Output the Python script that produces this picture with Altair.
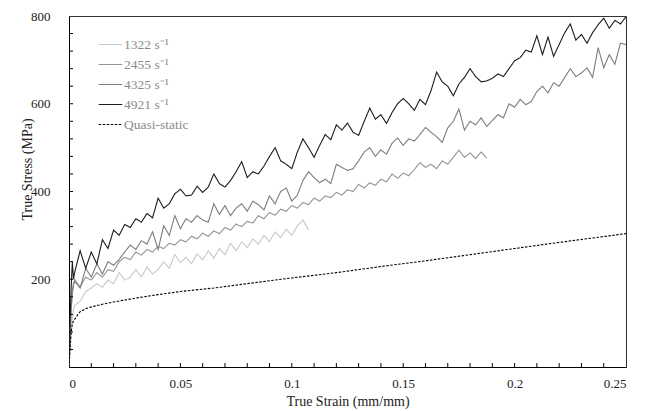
import altair as alt
import pandas as pd

# ---------------- data ----------------
STEP = 0.0025
init_strain = [0, 0.0005, 0.001, 0.0015, 0.002]

labels = ["1322 s⁻¹", "2455 s⁻¹", "4325 s⁻¹", "4921 s⁻¹", "Quasi-static"]

s1322_init = [0, 45, 85, 112, 130]
s1322_body = [140, 150, 172, 180, 190, 182, 198, 190, 215, 198,
              205, 222, 205, 228, 212, 222, 240, 225, 256, 238,
              250, 236, 258, 244, 265, 248, 270, 256, 282, 265,
              285, 272, 292, 280, 300, 286, 308, 295, 314, 300,
              322, 335, 312]

s2455_init = [0, 70, 130, 165, 185]
s2455_body = [200, 182, 205, 198, 215, 205, 222, 218, 240, 250,
              245, 262, 255, 268, 262, 275, 270, 282, 278, 290,
              285, 298, 292, 305, 298, 310, 304, 318, 312, 326,
              320, 332, 328, 345, 338, 352, 346, 360, 355, 368,
              362, 375, 370, 385, 378, 390, 386, 398, 392, 404,
              400, 416, 408, 420, 414, 428, 422, 440, 430, 442,
              436, 450, 466, 455, 462, 452, 470, 462, 478, 494,
              478, 488, 475, 490, 476]

s4325_init = [0, 75, 140, 175, 190]
s4325_body = [195, 180, 225, 205, 235, 212, 240, 232, 245, 262,
              278, 268, 288, 280, 308, 268, 322, 300, 345, 315,
              338, 330, 345, 335, 330, 372, 348, 368, 345, 362,
              372, 355, 378, 370, 358, 390, 372, 400, 408, 378,
              392, 425, 445, 432, 420, 428, 418, 462, 455, 448,
              452, 470, 490, 500, 480, 495, 485, 510, 522, 505,
              520, 515, 530, 546, 535, 525, 512, 545, 560, 588,
              540, 560, 552, 568, 548, 562, 575, 568, 600, 592,
              610, 598, 605, 628, 640, 625, 648, 640, 660, 680,
              662, 670, 682, 660, 728, 682, 712, 690, 738, 735]

s4921_init = [0, 110, 185, 240, 200]
s4921_body = [215, 265, 225, 262, 235, 290, 270, 312, 300, 325,
              318, 338, 330, 350, 340, 385, 362, 372, 395, 405,
              390, 392, 412, 398, 410, 440, 418, 410, 425, 445,
              468, 432, 445, 440, 458, 480, 500, 470, 462, 452,
              490, 520, 500, 478, 505, 530, 518, 552, 540, 556,
              535, 528, 560, 590, 565, 575, 555, 580, 600, 612,
              600, 585, 610, 598, 630, 672, 650, 640, 618, 645,
              660, 680, 662, 650, 652, 658, 668, 662, 680, 698,
              705, 722, 718, 755, 712, 752, 708, 735, 762, 782,
              745, 758, 738, 762, 780, 795, 772, 790, 782, 798]

qs_strain = [0, 0.0005, 0.001, 0.0015, 0.002, 0.003, 0.004, 0.005, 0.0075,
             0.01, 0.015, 0.02, 0.03, 0.04, 0.05, 0.065, 0.08, 0.1, 0.12,
             0.14, 0.16, 0.18, 0.2, 0.22, 0.25]
qs_stress = [0, 45, 80, 98, 105, 112, 120, 126, 133, 137, 143, 148, 157,
             165, 172, 180, 190, 203, 215, 229, 242, 256, 270, 284, 304]

x_label_values = [0, 0.05, 0.1, 0.15, 0.2, 0.25]
x_tick_values = [i / 100 for i in range(1, 25)]
y_label_values = [200, 400, 600, 800]
y_tick_values = [i * 40 for i in range(1, 20)]

colors = ["#c8c8c8", "#949494", "#7c7c7c", "#1c1c1c", "#000000"]
widths = [1.1, 1.1, 1.2, 1.1, 1.0]
dashes = [[1, 0], [1, 0], [1, 0], [1, 0], [2.5, 1.5]]

X_TITLE = "True Strain (mm/mm)"
Y_TITLE = "True Stress (MPa)"

# ---------------- table ----------------
rows = []
def add(name, init, body):
    for s, v in zip(init_strain, init):
        rows.append({"series": name, "strain": s, "stress": v})
    for i, v in enumerate(body):
        rows.append({"series": name, "strain": round(STEP * (i + 1), 5), "stress": v})

add(labels[0], s1322_init, s1322_body)
add(labels[1], s2455_init, s2455_body)
add(labels[2], s4325_init, s4325_body)
add(labels[3], s4921_init, s4921_body)
for s, v in zip(qs_strain, qs_stress):
    rows.append({"series": labels[4], "strain": s, "stress": v})
df = pd.DataFrame(rows)

xt = pd.DataFrame({"v": x_tick_values, "lo": 0.0, "hi": 9.0})
yt = pd.DataFrame({"v": y_tick_values, "lo": 0.0, "hi": 0.0018})

W, H = 557, 351
FONT = "Liberation Serif"

xs = alt.Scale(domain=[0, 0.25], nice=False, zero=False)
ys = alt.Scale(domain=[0, 800], nice=False, zero=False)

x_axis = alt.Axis(values=x_label_values, format="~g", ticks=False,
                  grid=False, labelPadding=10, titlePadding=4)
y_axis = alt.Axis(values=y_label_values, ticks=False, grid=False,
                  labelPadding=19, titleX=-42, titleY=153, titleAngle=270,
                  titleAlign="center", titleBaseline="middle")

main = alt.Chart(df).mark_line(clip=True).encode(
    x=alt.X("strain:Q", scale=xs, axis=x_axis, title=X_TITLE),
    y=alt.Y("stress:Q", scale=ys, axis=y_axis, title=Y_TITLE),
    color=alt.Color("series:N", title=None,
                    scale=alt.Scale(domain=labels, range=colors)),
    strokeWidth=alt.StrokeWidth("series:N", title=None,
                                scale=alt.Scale(domain=labels, range=widths)),
    strokeDash=alt.StrokeDash("series:N", title=None,
                              scale=alt.Scale(domain=labels, range=dashes)),
    order=alt.Order("strain:Q"),
)

xticks = alt.Chart(xt).mark_rule(color="#000000", strokeWidth=1).encode(
    x=alt.X("v:Q", scale=xs, axis=x_axis, title=X_TITLE),
    y=alt.Y("lo:Q", scale=ys, axis=y_axis, title=Y_TITLE),
    y2="hi",
)
yticks = alt.Chart(yt).mark_rule(color="#000000", strokeWidth=1).encode(
    y=alt.Y("v:Q", scale=ys, axis=y_axis, title=Y_TITLE),
    x=alt.X("lo:Q", scale=xs, axis=x_axis, title=X_TITLE),
    x2="hi",
)

chart = alt.layer(main, xticks, yticks).properties(
    width=W, height=H,
    autosize=alt.AutoSizeParams(type="none"),
    padding={"left": 69, "top": 16, "right": 20, "bottom": 44},
).configure_view(
    stroke="#333333", strokeWidth=1
).configure_axis(
    labelFont=FONT, labelFontSize=13, labelColor="#222222",
    titleFont=FONT, titleFontSize=14, titleFontWeight="normal",
    titleColor="#222222", domainColor="#000000", domainWidth=1,
).configure_legend(
    orient="none", legendX=29, legendY=16,
    symbolType="stroke", symbolSize=560, rowPadding=1,
    labelFont=FONT, labelFontSize=13.5, labelColor="#8a8a8a",
    labelOffset=1,
)

chart.save("out.html", embed_options={"renderer": "svg", "actions": False})
